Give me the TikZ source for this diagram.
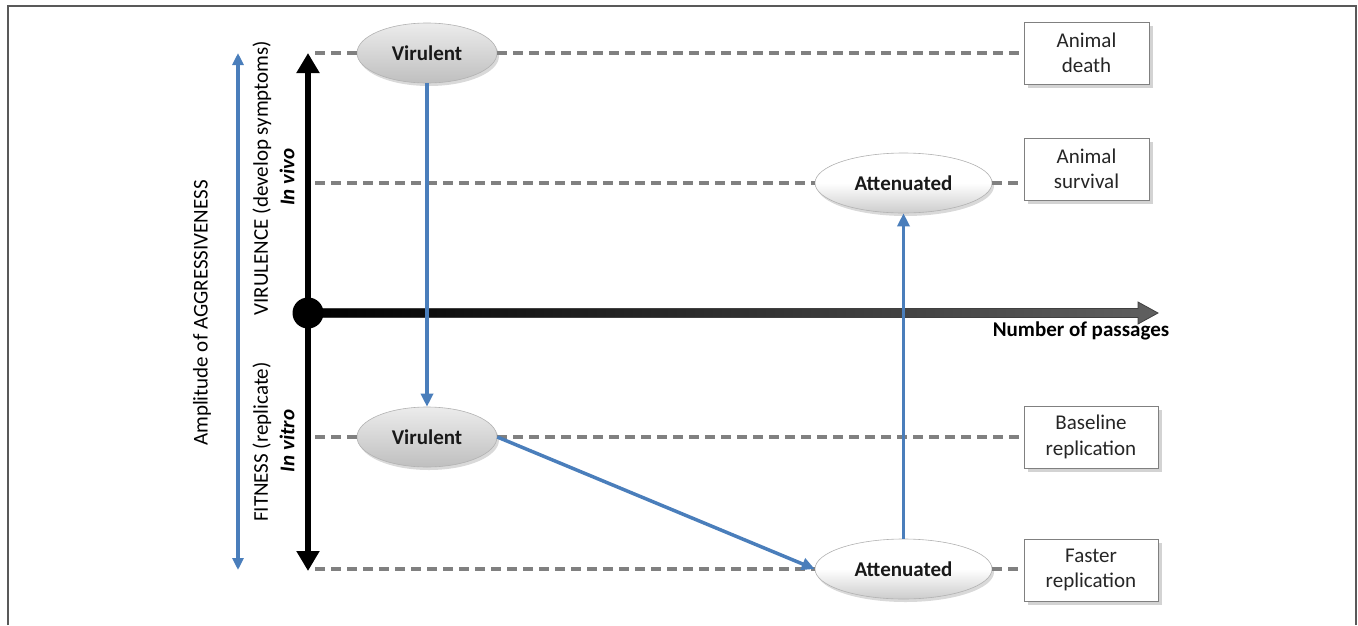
\documentclass[tikz,border=0pt]{standalone}
\usepackage{fontspec}
\setmainfont{Carlito}
\usetikzlibrary{arrows.meta,shapes.geometric,shadows,calc}
\definecolor{ablue}{HTML}{4A7EBB}
\definecolor{dgray}{HTML}{808080}
\begin{document}
\begin{tikzpicture}[x=1pt,y=-1pt,
  txt/.style={font=\fontsize{21}{25}\selectfont},
  ell/.style={ellipse, draw=gray!60, line width=0.6pt, inner sep=0pt, minimum width=140pt, minimum height=60pt,
    font=\fontsize{21}{25}\selectfont\bfseries, text=black!90,
    drop shadow={shadow xshift=2pt, shadow yshift=-3pt, opacity=0.3}},
  vir/.style={ell, top color=gray!15, bottom color=gray!50},
  att/.style={ell, minimum width=177pt, top color=white, bottom color=gray!40, middle color=white},
  outbox/.style={draw=dgray, line width=1pt, fill=white, align=center, text=black!85, minimum height=62pt,
    inner sep=0pt, font=\fontsize{21}{25.5}\selectfont,
    drop shadow={shadow xshift=4pt, shadow yshift=-4pt, opacity=0.35, fill=gray}},
  dashline/.style={draw=dgray, line width=3.5pt, dash pattern=on 10pt off 6pt},
  bluearrow/.style={draw=ablue, line width=3.5pt, -{Triangle[length=13pt,width=12pt]}},
]
\useasboundingbox (0,0) rectangle (1358,625);
% frame
\draw[gray!70!black, line width=1.5pt] (8,625) -- (8,6) -- (1356,6) -- (1356,625);

% boxes
\node[outbox, minimum width=125pt] (B1) at (1086.5,53) {Animal\\death};
\node[outbox, minimum width=125pt] (B2) at (1086.5,169) {Animal\\survival};
\node[outbox, minimum width=134pt] (B3) at (1091,437) {Baseline\\replication};
\node[outbox, minimum width=134pt] (B4) at (1091,570) {Faster\\replication};

% ellipses
\node[vir] (V1) at (427,53) {Virulent};
\node[vir] (V2) at (427,437) {Virulent};
\node[att] (A1) at (903.5,183) {Attenuated};
\node[att] (A2) at (903.5,569) {Attenuated};

% dashed guide lines
\coordinate (d1) at (315,53);
\coordinate (d2) at (315,183);
\coordinate (d3) at (315,437);
\coordinate (d4) at (315,569);
\draw[dashline] (d1) -- (V1.west);
\draw[dashline] (V1.east) -- (V1.east -| B1.west);
\draw[dashline] (d2) -- (A1.west);
\draw[dashline] (A1.east) -- (A1.east -| B2.west);
\draw[dashline] (d3) -- (V2.west);
\draw[dashline] (V2.east) -- (V2.east -| B3.west);
\draw[dashline] (d4) -- (A2.west);
\draw[dashline] (A2.east) -- (A2.east -| B4.west);

% amplitude blue double arrow
\coordinate (at) at (238,53);
\coordinate (ab) at (238,570);
\draw[draw=ablue, line width=3.5pt, {Triangle[length=12pt,width=11pt]}-{Triangle[length=12pt,width=11pt]}] (at) -- (ab);

% black vertical axis
\coordinate (vt) at (308,53);
\coordinate (vb) at (308,571);
\draw[line width=6.5pt, {Triangle[length=20pt,width=22pt]}-{Triangle[length=20pt,width=22pt]}] (vt) -- (vb);

% horizontal block arrow
\coordinate (ht) at (1158,313);
\shade[left color=black, right color=gray!75!black, draw=black!75, line width=0.8pt]
  (308,308.5) -- (1138,308.5) -- (1138,302) -- (ht) -- (1138,324) -- (1138,317.5) -- (308,317.5) -- cycle;
\node[circle, fill=black, minimum size=31pt, inner sep=0pt] (O) at (308,313) {};
\node[txt, font=\fontsize{21}{25}\selectfont\bfseries] (np) at (1081,331) {Number of passages};

% axis labels
\node[txt, rotate=90] (amp) at (202,313) {Amplitude of AGGRESSIVENESS};
\node[txt, rotate=90] (vir) at (262,178) {VIRULENCE (develop symptoms)};
\node[txt, rotate=90, font=\fontsize{21}{25}\selectfont\bfseries\itshape] (iv) at (287,177) {In vivo};
\node[txt, rotate=90] (fit) at (262,442) {FITNESS (replicate)};
\node[txt, rotate=90, font=\fontsize{21}{25}\selectfont\bfseries\itshape] (ivt) at (287,441) {In vitro};

% blue transitions
\draw[bluearrow] (V1.south) -- (V2.north);
\draw[bluearrow] (V2.east) -- (A2.west);
\draw[bluearrow] (A2.north) -- (A1.south);
\end{tikzpicture}
\end{document}
